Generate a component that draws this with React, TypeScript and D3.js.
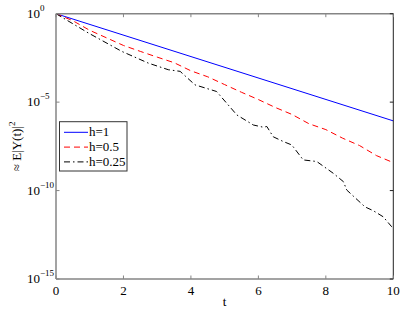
import React from "react";
import * as d3 from "d3";

const W = 403;
const H = 312;

// h = 1 (straight line on log scale)
const tBlue = [0, 10];
const vBlue = [1, 8.7e-7];

// h = 0.5
const tRed = [0, 0.5, 1, 1.5, 2, 2.5, 3, 3.5, 4, 4.5, 5, 5.5, 6, 6.5, 7, 7.5, 8, 8.5, 9, 9.5, 10];
const vRed = [
  1, 4.0e-1, 1.15e-1, 4.3e-2, 1.6e-2, 7.4e-3, 3.5e-3, 1.7e-3, 5.9e-4, 2.7e-4, 9.8e-5,
  3.6e-5, 1.4e-5, 5.0e-6, 2.0e-6, 6.0e-7, 2.8e-7, 9.1e-8, 3.5e-8, 9.5e-9, 3.8e-9,
];

// h = 0.25
const tBlack = [0, 0.96, 1.95, 2.74, 3.33, 3.68, 4.12, 4.76, 5.36, 5.85, 6.15, 6.25, 6.44, 6.74, 6.99, 7.33, 7.73, 8.22, 8.52, 8.62, 9.16, 9.41, 9.7, 9.95, 10];
const vBlack = [
  1, 8.1e-2, 7.4e-3, 1.6e-3, 6.8e-4, 5.5e-4, 9.5e-5, 4.0e-5, 1.9e-6, 5.1e-7, 3.8e-7,
  4.2e-7, 1.1e-7, 5.9e-8, 3.8e-8, 5.4e-9, 4.4e-9, 9.5e-10, 3.2e-10, 1.07e-10, 1.2e-11,
  7.2e-12, 3.3e-12, 9.1e-13, 6.8e-13,
];

const xTicks = [0, 2, 4, 6, 8, 10];
const yTickExps = [0, -5, -10, -15];

const seriesNames = ["h=1", "h=0.5", "h=0.25"];
const seriesColors = ["#0000ff", "#ff0000", "#000000"];
const seriesDash = ["none", "6,4", "6,3,1.5,3"];

export default function App() {
  const left = 56;
  const right = 393.3;
  const top = 13.7;
  const bottom = 279;

  const x = d3.scaleLinear().domain([0, 10]).range([left, right]);
  const y = d3.scaleLog().domain([1e-15, 1]).range([bottom, top]);

  const line = d3
    .line<[number, number]>()
    .x((d) => x(d[0]))
    .y((d) => y(d[1]));

  const series = [
    tBlue.map((t, i) => [t, vBlue[i]] as [number, number]),
    tRed.map((t, i) => [t, vRed[i]] as [number, number]),
    tBlack.map((t, i) => [t, vBlack[i]] as [number, number]),
  ];

  const font = "Liberation Serif";
  const fs = 13;
  const sup = 9;
  const axisGray = "#858585";

  return (
    <svg
      width={W}
      height={H}
      style={{ position: "absolute", left: 0, top: 0, background: "#fff", fontFamily: font }}
    >
      <rect x={0} y={0} width={W} height={H} fill="#fff" />

      {/* data lines */}
      {series.map((s, i) => (
        <path
          key={i}
          d={line(s) || ""}
          fill="none"
          stroke={seriesColors[i]}
          strokeWidth={1}
          strokeDasharray={seriesDash[i]}
        />
      ))}

      {/* axes box */}
      <line x1={left} x2={right} y1={top} y2={top} stroke={axisGray} strokeWidth={1.5} />
      <line x1={right} x2={right} y1={top} y2={bottom} stroke="#222" strokeWidth={1} />
      <line x1={left} x2={left} y1={top} y2={bottom} stroke={axisGray} strokeWidth={1.5} />
      <line x1={left} x2={right} y1={bottom} y2={bottom} stroke={axisGray} strokeWidth={1.5} />

      {/* x ticks */}
      {xTicks.map((t) => (
        <g key={t}>
          <line x1={x(t)} x2={x(t)} y1={bottom} y2={bottom - 3.5} stroke={axisGray} strokeWidth={1} />
          <line x1={x(t)} x2={x(t)} y1={top} y2={top + 3.5} stroke={axisGray} strokeWidth={1} />
          <text x={x(t)} y={294.5} textAnchor="middle" fontSize={fs} fill="#000" style={{ fontFamily: font }}>
            {t}
          </text>
        </g>
      ))}

      {/* y ticks */}
      {yTickExps.map((e) => {
        const yy = y(Math.pow(10, e));
        return (
          <g key={e}>
            <line x1={left} x2={left + 3.5} y1={yy} y2={yy} stroke={axisGray} strokeWidth={1} />
            <line x1={right} x2={right - 3.5} y1={yy} y2={yy} stroke="#222" strokeWidth={1} />
            <text x={27} y={yy + 4} fontSize={fs} fill="#000" style={{ fontFamily: font }}>
              10
              <tspan fontSize={sup} dy={-7}>
                {e === 0 ? "0" : "\u2212" + Math.abs(e)}
              </tspan>
            </text>
          </g>
        );
      })}

      {/* axis labels */}
      <text
        x={(left + right) / 2}
        y={306}
        textAnchor="middle"
        fontSize={fs}
        fill="#000"
        style={{ fontFamily: font }}
      >
        t
      </text>
      <text
        transform={`translate(21, ${(top + bottom) / 2}) rotate(-90)`}
        textAnchor="middle"
        fontSize={fs}
        fill="#000"
        style={{ fontFamily: font }}
      >
        ≈ E|Y(t)|
        <tspan fontSize={sup} dy={-6}>
          2
        </tspan>
      </text>

      {/* legend */}
      <rect x={59.5} y={121.7} width={67.5} height={49.3} fill="#fff" stroke="#333" strokeWidth={1} />
      {seriesNames.map((n, i) => {
        const ly = 132.3 + i * 14.8;
        return (
          <g key={n}>
            <line
              x1={64}
              x2={88}
              y1={ly}
              y2={ly}
              stroke={seriesColors[i]}
              strokeWidth={1}
              strokeDasharray={seriesDash[i]}
            />
            <text x={89} y={ly + 4} fontSize={fs} fill="#000" style={{ fontFamily: font }}>
              {n}
            </text>
          </g>
        );
      })}
    </svg>
  );
}
